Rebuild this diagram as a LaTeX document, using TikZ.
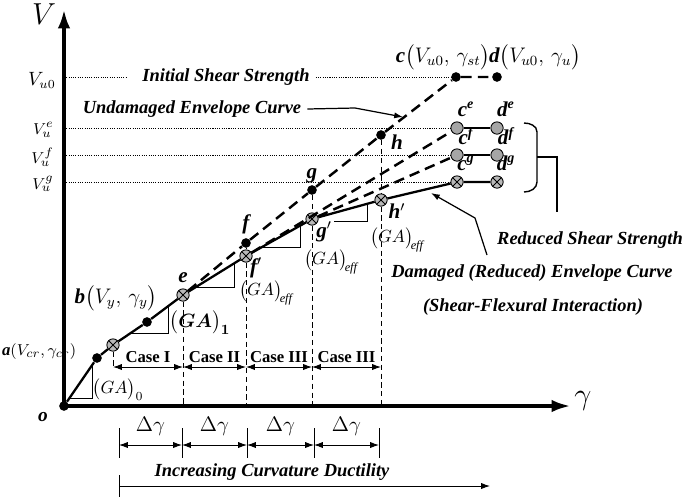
\documentclass[tikz,border=0pt]{standalone}
\usepackage{amsmath}
\usepackage{fontspec}
\setmainfont{Liberation Serif}
\usetikzlibrary{arrows.meta, positioning}
\tikzstyle{every node}=[font=\fontsize{11}{12}\selectfont]
\tikzstyle{dot}=[circle,fill=black,inner sep=0pt,minimum size=5.5pt]
\tikzstyle{gdot}=[circle,draw,line width=0.5pt,fill=gray!70,inner sep=0pt,minimum size=7pt]
\tikzstyle{xdot}=[gdot,fill=gray!55,path picture={\draw[line width=0.5pt] (path picture bounding box.south west) -- (path picture bounding box.north east) (path picture bounding box.north west) -- (path picture bounding box.south east);}]
\tikzstyle{axis}=[line width=2.2pt]
\tikzstyle{env}=[line width=1.3pt]
\tikzstyle{undam}=[line width=1.4pt,dash pattern=on 6pt off 3.5pt]
\tikzstyle{level}=[line width=0.5pt,dash pattern=on 0.6pt off 0.7pt]
\tikzstyle{guide}=[line width=0.5pt,dash pattern=on 3pt off 2pt]
\tikzstyle{slope}=[line width=0.5pt]
\tikzstyle{note}=[font=\fontsize{10.5}{12}\selectfont\bfseries\itshape]
\tikzstyle{plab}=[font=\fontsize{12}{12}\selectfont\bfseries\itshape,inner sep=1pt]
\tikzstyle{vlab}=[anchor=east,inner sep=0pt,font=\fontsize{9.5}{10}\selectfont]
\tikzstyle{case}=[font=\fontsize{9.5}{11}\selectfont\bfseries,inner sep=1pt]
\newcommand{\ptname}[1]{\textbf{\textit{#1}}}
\newcommand{\gaeff}{$\bigl(GA\bigr)_{\!\mathit{eff}}$}

\begin{document}
\begin{tikzpicture}[x=0.02cm,y=-0.02cm,>={Latex[length=5pt,width=3.5pt]}]
    \useasboundingbox (0,0) rectangle (685,501);
    % points of the envelopes
    \node[dot] (o) at (64,406) {};
    \node[dot] (a) at (97,358) {};
    \node[xdot] (k) at (113,345) {};
    \node[dot] (b) at (147,322) {};
    \node[xdot] (e) at (183,295) {};
    \node[dot] (f) at (246,243) {};
    \node[xdot] (fp) at (246,256) {};
    \node[dot] (g) at (312,190) {};
    \node[xdot] (gp) at (312,219) {};
    \node[dot] (h) at (381,135) {};
    \node[xdot] (hp) at (381,200) {};
    \node[dot] (c) at (456,77) {};
    \node[dot] (d) at (497,77) {};
    \node[gdot] (ce) at (457,128) {};
    \node[gdot] (de) at (497,128) {};
    \node[gdot] (cf) at (457,155) {};
    \node[gdot] (df) at (497,155) {};
    \node[xdot] (cg) at (457,182) {};
    \node[xdot] (dg) at (497,182) {};
    \coordinate (vtop) at (64,9);
    \coordinate (gend) at (571,406);
    \coordinate (cs) at (0,367);

    % axes
    \draw[axis,-{Latex[length=11pt,width=7pt]}] (o.center) -- (vtop);
    \draw[axis,-{Latex[length=11pt,width=7pt]}] (o.center) -- (gend);
    \node[font=\fontsize{18}{18}\selectfont] (vax) at (44,14) {$V$};
    \node[font=\fontsize{18}{18}\selectfont] (gax) at (583,401) {$\gamma$};
    \node at (43,417) {\ptname{o}};

    % strength levels
    \node[note] (iss) at (226,77) {Initial Shear Strength};
    \node[vlab,font=\fontsize{10.5}{11}\selectfont] (vu0) at (56,80) {$V_{u0}$};
    \node[vlab] (vue) at (54,130) {$V_u^{e}$};
    \node[vlab] (vuf) at (54,157) {$V_u^{f}$};
    \node[vlab] (vug) at (54,184) {$V_u^{g}$};
    \draw[level,shorten >=5pt] (o |- c) -- (iss.west);
    \draw[level] (iss.east) -- (c);
    \draw[level] (o |- ce) -- (ce);
    \draw[level] (o |- cf) -- (cf);
    \draw[level] (o |- cg) -- (cg);

    % envelopes
    \draw[env] (o) -- (a) -- (k) -- (b) -- (e) -- (fp) -- (gp) -- (hp) -- (cg) -- (dg);
    \draw[undam] (e) -- (f) -- (g) -- (h) -- (c) -- (d);
    \draw[undam] (fp) -- (ce);
    \draw[undam] (gp) -- (cf);
    \draw[line width=0.9pt] (ce) -- (de);
    \draw[line width=0.9pt] (cf) -- (df);

    % guides down to the axis
    \draw[guide] (k) -- (k |- cs);
    \draw[guide] (e) -- (e |- o);
    \draw[guide] (f) -- (fp) (fp) -- (fp |- o);
    \draw[guide] (g) -- (gp) (gp) -- (gp |- o);
    \draw[guide] (h) -- (hp) (hp) -- (hp |- o);

    % slopes
    \draw[slope] (69,398) -- (92,398) -- (92,365);
    \draw[slope] (131,333) -- (168,333) -- (168,306);
    \draw[slope] (196,287) -- (234,287) -- (234,263);
    \draw[slope] (262,247) -- (300,247) -- (300,226);
    \draw[slope] (334,221) -- (367,221) -- (367,205);
    \node[font=\fontsize{10}{11}\selectfont,inner sep=0pt] (ga0) at (118,390) {$\bigl(GA\bigr)_0$};
    \node[font=\fontsize{11}{12}\selectfont\boldmath,inner sep=0pt] (ga1) at (200,323) {$\bigl(GA\bigr)_1$};
    \node[font=\fontsize{10}{11}\selectfont,inner sep=0pt] (ga2) at (266,293) {\gaeff};
    \node[font=\fontsize{10}{11}\selectfont,inner sep=0pt] (ga3) at (331,262) {\gaeff};
    \node[font=\fontsize{10}{11}\selectfont,inner sep=0pt] (ga4) at (397,240) {\gaeff};

    % point labels
    \node[plab,anchor=west,font=\fontsize{9.5}{11}\selectfont\bfseries\itshape] at (0,352) {a$(V_{cr},\gamma_{cr})$};
    \node[plab] at (116,298) {b$\bigl(V_{y},\,\gamma_{y}\bigr)$};
    \node[plab, above=2pt of e] {e};
    \node[plab, above=1pt of f] {f};
    \node[plab, above=0pt of g] {g};
    \node[plab] at (397,142) {h};
    \node[plab] at (256,268) {f$'$};
    \node[plab] at (324,232) {g$'$};
    \node[plab] at (397,211) {h$'$};
    \node[plab] at (443,57) {c$\bigl(V_{u0},\,\gamma_{st}\bigr)$};
    \node[plab] at (535,57) {d$\bigl(V_{u0},\,\gamma_{u}\bigr)$};
    \node[plab] at (466,109) {c\textsuperscript{e}};
    \node[plab] at (506,109) {d\textsuperscript{e}};
    \node[plab] at (466,136) {c\textsuperscript{f}};
    \node[plab] at (506,136) {d\textsuperscript{f}};
    \node[plab] at (466,163) {c\textsuperscript{g}};
    \node[plab] at (506,163) {d\textsuperscript{g}};

    % cases
    \draw[<->,slope] (k |- cs) -- node[case,above=1pt] {Case I} (e |- cs);
    \draw[<->,slope] (e |- cs) -- node[case,above=1pt] {Case II} (fp |- cs);
    \draw[<->,slope] (fp |- cs) -- node[case,above=1pt] {Case III} (gp |- cs);
    \draw[<->,slope] (gp |- cs) -- node[case,above=1pt] {Case III} (hp |- cs);

    % increments
    \coordinate (q0) at (119,445);
    \coordinate (q1) at (182,445);
    \coordinate (q2) at (247,445);
    \coordinate (q3) at (314,445);
    \coordinate (q4) at (379,445);
    \draw[slope] (q0) ++(0,-17) -- ++(0,30);
    \draw[slope] (q1) ++(0,-17) -- ++(0,30);
    \draw[slope] (q2) ++(0,-17) -- ++(0,30);
    \draw[slope] (q3) ++(0,-17) -- ++(0,30);
    \draw[slope] (q4) ++(0,-17) -- ++(0,30);
    \draw[<->,slope] (q0) -- node[above=2pt,font=\fontsize{13}{13}\selectfont] {$\Delta\gamma$} (q1);
    \draw[<->,slope] (q1) -- node[above=2pt,font=\fontsize{13}{13}\selectfont] {$\Delta\gamma$} (q2);
    \draw[<->,slope] (q2) -- node[above=2pt,font=\fontsize{13}{13}\selectfont] {$\Delta\gamma$} (q3);
    \draw[<->,slope] (q3) -- node[above=2pt,font=\fontsize{13}{13}\selectfont] {$\Delta\gamma$} (q4);
    \coordinate (r0) at (119,486);
    \coordinate (r1) at (490,486);
    \node[note] (icd) at (272,472) {Increasing Curvature Ductility};
    \draw[slope] (r0) ++(0,-11) -- ++(0,22);
    \draw[->,slope] (r0) -- (r1);

    % notes with pointers
    \node[note] (uec) at (192,109) {Undamaged Envelope Curve};
    \coordinate (uk) at (355,108);
    \coordinate (ut) at (403,117);
    \draw[->,line width=0.7pt] (uec.east) -- (uk) -- (ut);
    \node[note] (dec) at (532,273) {Damaged (Reduced) Envelope Curve};
    \node[note] (sfi) at (533,307) {(Shear-Flexural Interaction)};
    \coordinate (ds) at (487,255);
    \coordinate (dk) at (475,218);
    \coordinate (dt) at (431,193);
    \draw[->,line width=0.7pt] (ds) -- (dk) -- (dt);
    \node[note] (rss) at (590,240) {Reduced Shear Strength};
    \draw[line width=0.8pt] (524,123) to[out=0,in=90] (537,132) -- (537,182) to[out=-90,in=0] (524,192);
    \coordinate (bk) at (557,157);
    \draw[line width=0.8pt] (537,157) -- (bk) -- (bk |- 0,212);
\end{tikzpicture}
\end{document}
